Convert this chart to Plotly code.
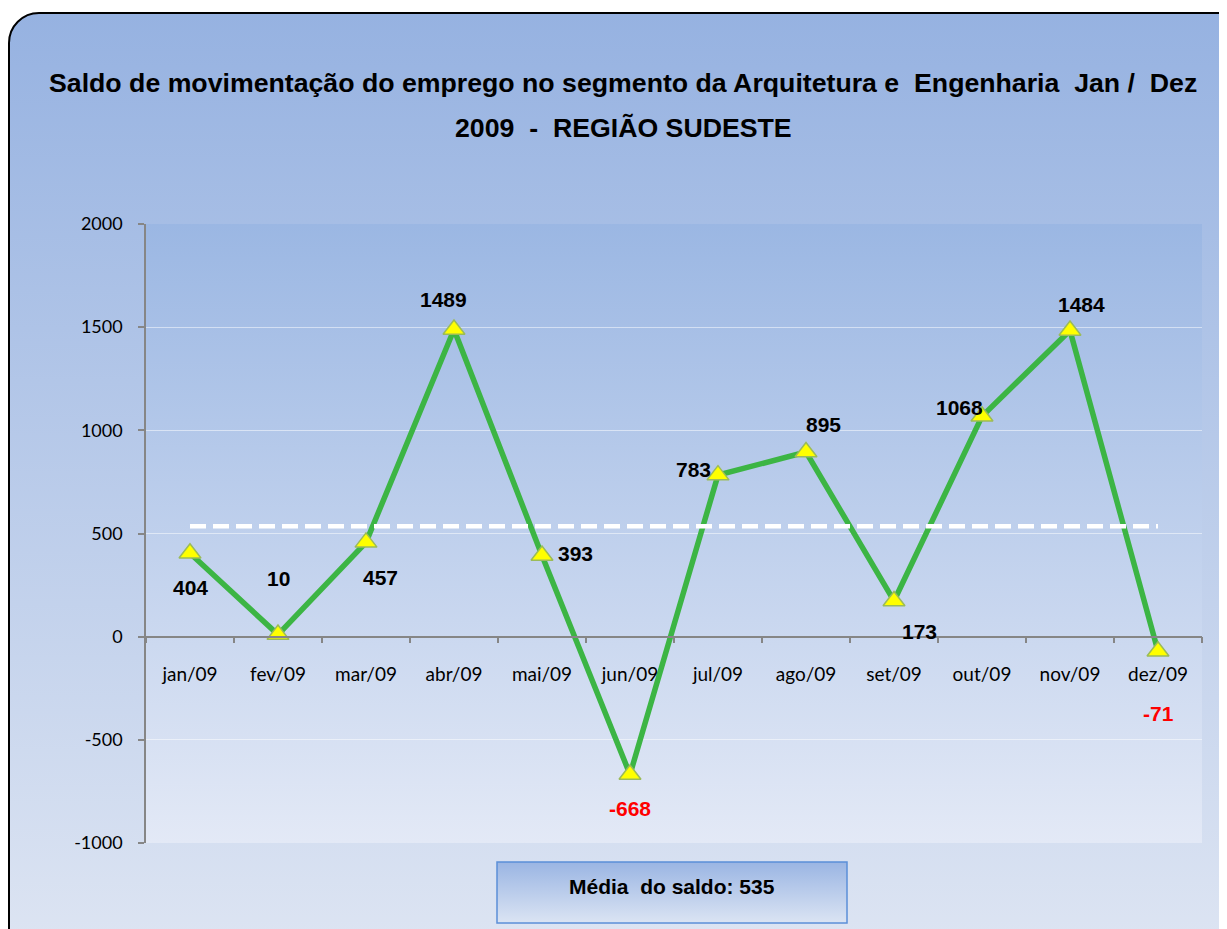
import base64
import plotly.graph_objects as go

# ---- data ----
months = ["jan/09", "fev/09", "mar/09", "abr/09", "mai/09", "jun/09",
          "jul/09", "ago/09", "set/09", "out/09", "nov/09", "dez/09"]
saldo = [404, 10, 457, 1489, 393, -668, 783, 895, 173, 1068, 1484, -71]
media = 535
y_ticks = [-1000, -500, 0, 500, 1000, 1500, 2000]
y_tick_text = [str(v) for v in y_ticks]

# label offsets (pixels) for data labels
label_dx = [0, 0, 14, -11, 33, 0, -25, 17, 25, -23, 11, 0]
label_dy = [-34, 56, -35, 30, 2, -34, 6, 28, -31, 9, 26, -62]

OFF = 8  # page body margin
W, H = 1227 - OFF, 929 - OFF
L, T = 146 - OFF, 224 - OFF
R = W - (1202 - OFF)
B = H - (843 - OFF)
pw, ph = W - L - R, H - T - B


def px(x):  # reference pixel x -> paper x
    return (x - OFF - L) / pw


def py(y):  # reference pixel y -> paper y
    return (H - B - (y - OFF)) / ph


# background artwork (gradients) as an SVG
svg = f'''<svg xmlns="http://www.w3.org/2000/svg" width="{W}" height="{H}" viewBox="0 0 {W} {H}" preserveAspectRatio="none">
<defs>
<linearGradient id="g1" x1="0" y1="0" x2="0" y2="1">
<stop offset="0" stop-color="#96b2e1"/><stop offset="1" stop-color="#dfe6f3"/></linearGradient>
<linearGradient id="g2" x1="0" y1="0" x2="0" y2="1">
<stop offset="0" stop-color="#9bb7e3"/><stop offset="1" stop-color="#e3e9f6"/></linearGradient>
<linearGradient id="g3" x1="0" y1="0" x2="0" y2="1">
<stop offset="0" stop-color="#9ab5e3"/><stop offset="1" stop-color="#dbe4f3"/></linearGradient>
</defs>
<rect x="{9 - OFF}" y="{13 - OFF}" width="1260" height="960" rx="30" ry="30" fill="url(#g1)" stroke="#000" stroke-width="2"/>
<rect x="{L}" y="{T}" width="{pw}" height="{ph}" fill="url(#g2)"/>
<rect x="{497 - OFF}" y="{862 - OFF}" width="350" height="61" fill="url(#g3)" stroke="#5b8fd8" stroke-width="1.5"/>
</svg>'''
src = "data:image/svg+xml;base64," + base64.b64encode(svg.encode()).decode()

fig = go.Figure()

# main series
fig.add_trace(go.Scatter(
    x=months, y=saldo, mode="lines+markers",
    line=dict(color="#3cb544", width=5.5),
    marker=dict(symbol="triangle-up", size=19, color="#ffff00",
                line=dict(color="#9bbb59", width=1.5)),
    showlegend=False))

# mean line (drawn on top)
fig.add_trace(go.Scatter(
    x=months, y=[media] * len(months), mode="lines",
    line=dict(color="white", width=4.5, dash="16px,7px"),
    hoverinfo="skip", showlegend=False))

# data labels
for m, v, dx, dy in zip(months, saldo, label_dx, label_dy):
    fig.add_annotation(
        x=m, y=v, text=f"<b>{v}</b>", showarrow=False,
        xshift=dx, yshift=dy, xanchor="center", yanchor="middle",
        font=dict(family="Liberation Sans, Arial", size=21,
                  color="#ff0000" if v < 0 else "#000000"))

# title (two lines)
title_font = dict(family="Liberation Sans, Arial", size=26.7, color="black")
fig.add_annotation(
    xref="paper", yref="paper", x=px(623), y=py(83),
    xanchor="center", yanchor="middle",
    text="<b>Saldo de movimentação do emprego no segmento da Arquitetura e  Engenharia  Jan /  Dez</b>",
    showarrow=False, font=title_font)
fig.add_annotation(
    xref="paper", yref="paper", x=px(623), y=py(128),
    xanchor="center", yanchor="middle",
    text="<b>2009  -  REGIÃO SUDESTE</b>",
    showarrow=False, font=title_font)

# mean box text
fig.add_annotation(
    xref="paper", yref="paper", x=px(672), y=py(886),
    xanchor="center", yanchor="middle",
    text=f"<b>Média  do saldo: {media}</b>", showarrow=False,
    font=dict(family="Liberation Sans, Arial", size=21, color="black"))

fig.add_layout_image(dict(
    source=src, xref="paper", yref="paper",
    x=-L / pw, y=(H - B) / ph, sizex=W / pw, sizey=H / ph,
    xanchor="left", yanchor="top", sizing="stretch", layer="below"))

fig.update_layout(
    width=W, height=H,
    margin=dict(l=L, r=R, t=T, b=B),
    paper_bgcolor="white", plot_bgcolor="rgba(0,0,0,0)",
    font=dict(family="Lato, Open Sans, sans-serif", size=19, color="black"),
    xaxis=dict(
        type="category", categoryorder="array", categoryarray=months,
        anchor="free", position=1 / 3,
        showline=True, linecolor="#868686", linewidth=1.5,
        ticks="outside", tickson="boundaries", ticklen=6, tickcolor="#868686",
        tickwidth=1.5, ticklabelstandoff=21,
        showgrid=False, zeroline=False,
        range=[-0.5, len(months) - 0.5]),
    yaxis=dict(
        range=[-1000, 2000], tickvals=y_ticks, ticktext=y_tick_text,
        showline=True, linecolor="#868686", linewidth=1.5,
        ticks="outside", ticklen=6, tickcolor="#868686", tickwidth=1.5,
        ticklabelstandoff=12, tickfont=dict(size=18),
        showgrid=True, gridcolor="rgba(255,255,255,0.5)", gridwidth=1.2,
        zeroline=False),
)

fig.write_html("out.html")
